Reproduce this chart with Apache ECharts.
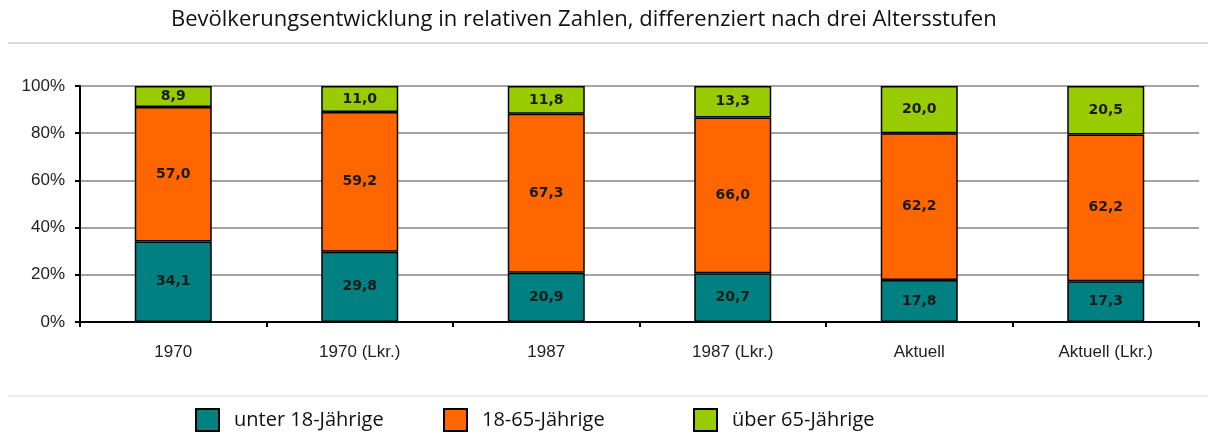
<!DOCTYPE html>
<html>
<head>
<meta charset="utf-8">
<script src="https://cdn.jsdelivr.net/npm/echarts@6/dist/echarts.min.js"></script>
<style>
  html, body { margin: 0; padding: 0; background: #fff; }
  #chart { width: 1208px; height: 434px; }
</style>
</head>
<body>
<div id="chart"></div>
<script>
// Daten
var categories = ['1970', '1970 (Lkr.)', '1987', '1987 (Lkr.)', 'Aktuell', 'Aktuell (Lkr.)'];
var unter18 = [34.1, 29.8, 20.9, 20.7, 17.8, 17.3];
var mitte = [57.0, 59.2, 67.3, 66.0, 62.2, 62.2];
var ueber65 = [8.9, 11.0, 11.8, 13.3, 20.0, 20.5];
var yTicks = [0, 20, 40, 60, 80, 100];

var seriesNames = ['unter 18-Jährige', '18-65-Jährige', 'über 65-Jährige'];
var colors = ['#008080', '#ff6600', '#99cc00'];

function fmt(p) {
  return p.value.toFixed(1).replace('.', ',');
}

function makeSeries(name, data, color) {
  return {
    name: name,
    type: 'bar',
    stack: 'gesamt',
    data: data,
    barWidth: 77,
    itemStyle: { color: color, borderColor: '#000', borderWidth: 1.5 },
    label: {
      show: true,
      position: 'inside',
      formatter: fmt,
      fontFamily: 'DejaVu Sans',
      fontWeight: 'bold',
      fontSize: 14,
      color: '#1a1a1a'
    }
  };
}

function makeLegend(i, left) {
  return {
    data: [seriesNames[i]],
    left: left,
    top: 403,
    itemWidth: 23,
    itemHeight: 22,
    itemGap: 0,
    icon: 'rect',
    textStyle: {
      fontFamily: 'Open Sans',
      fontSize: 20,
      color: '#111',
      padding: [0, 0, 0, 10]
    }
  };
}

var chart = echarts.init(document.getElementById('chart'));
var option = {
  animation: false,
  color: colors,
  title: {
    text: 'Bevölkerungsentwicklung in relativen Zahlen, differenziert nach drei Altersstufen',
    left: 171,
    top: 9,
    padding: 0,
    textStyle: {
      fontFamily: 'Open Sans',
      fontWeight: 'normal',
      fontSize: 22,
      color: '#111'
    }
  },
  legend: [makeLegend(0, 190), makeLegend(1, 438), makeLegend(2, 688)],
  grid: { left: 80, right: 9, top: 86, bottom: 112 },
  xAxis: {
    type: 'category',
    data: categories,
    axisLine: { lineStyle: { color: '#000', width: 2 } },
    axisTick: { show: true, length: 5, lineStyle: { color: '#000', width: 2 } },
    axisLabel: { fontFamily: 'Liberation Sans', fontSize: 17, color: '#222', margin: 22 }
  },
  yAxis: {
    type: 'value',
    min: 0,
    max: 100,
    interval: 20,
    axisLine: { show: true, lineStyle: { color: '#000', width: 2 } },
    axisTick: { show: true, length: 5, lineStyle: { color: '#000', width: 2 } },
    splitLine: { lineStyle: { color: '#868686', width: 1.5 } },
    axisLabel: {
      fontFamily: 'Liberation Sans',
      fontSize: 17,
      color: '#222',
      margin: 15,
      formatter: function (v) { return yTicks.indexOf(v) >= 0 ? v + '%' : ''; }
    }
  },
  graphic: [
    { type: 'line', shape: { x1: 8, y1: 43, x2: 1208, y2: 43 }, style: { stroke: '#dcdcdc', lineWidth: 2 } },
    { type: 'line', shape: { x1: 8, y1: 396, x2: 1208, y2: 396 }, style: { stroke: '#d4d4d4', lineWidth: 1 } }
  ],
  series: [
    makeSeries(seriesNames[0], unter18, colors[0]),
    makeSeries(seriesNames[1], mitte, colors[1]),
    makeSeries(seriesNames[2], ueber65, colors[2])
  ]
};
chart.setOption(option);
</script>
</body>
</html>
